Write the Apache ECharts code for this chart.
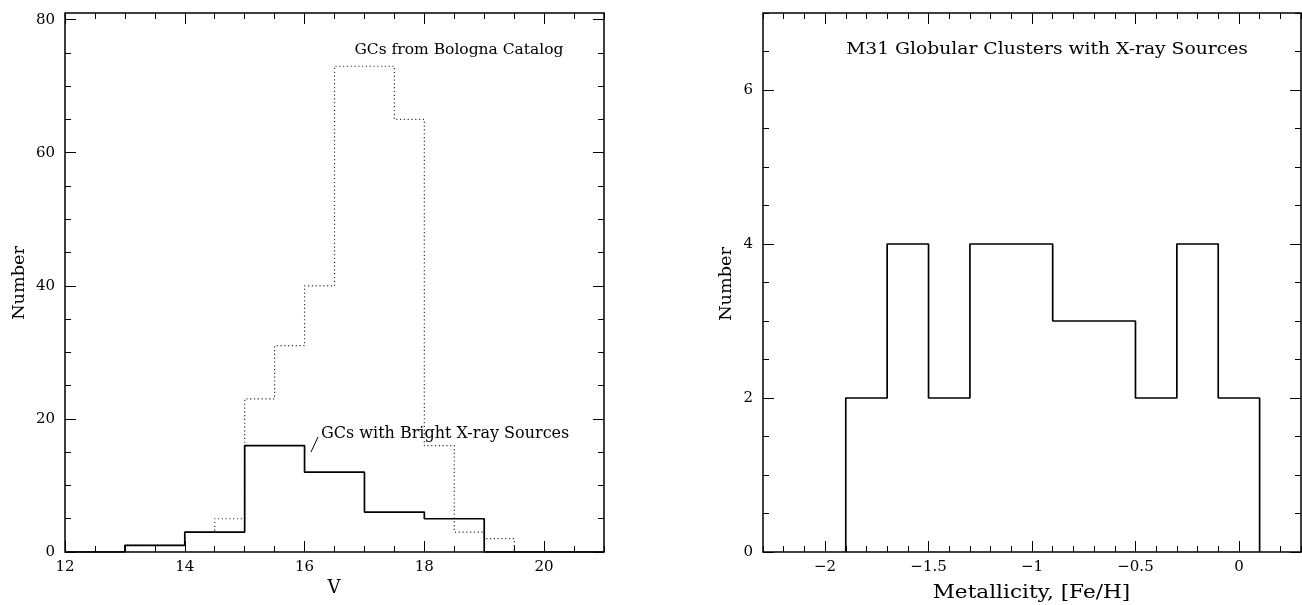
<!DOCTYPE html>
<html><head><meta charset="utf-8">
<script src="https://cdn.jsdelivr.net/npm/echarts@6/dist/echarts.min.js"></script>
<style>html,body{margin:0;padding:0;background:#fff}#c{width:1302px;height:605px}</style>
</head><body><div id="c"></div>
<script>
// ---- Left panel: V magnitude histograms ----
const vEdgesBright = [12, 13, 14, 15, 16, 17, 18, 19, 20, 21];
const vCountsBright = [0, 1, 3, 16, 12, 6, 5, 0, 0];
const vEdgesBologna = [12, 12.5, 13, 13.5, 14, 14.5, 15, 15.5, 16, 16.5, 17, 17.5, 18, 18.5, 19, 19.5, 20, 20.5, 21];
const vCountsBologna = [0, 0, 1, 1, 3, 5, 23, 31, 40, 73, 73, 65, 16, 3, 2, 0, 0, 0];
const leftXTicks = [12, 14, 16, 18, 20];
const leftYTicks = [0, 20, 40, 60, 80];

// ---- Right panel: metallicity histogram ----
const fehEdges = [-1.9, -1.7, -1.5, -1.3, -1.1, -0.9, -0.7, -0.5, -0.3, -0.1, 0.1];
const fehCounts = [2, 4, 2, 4, 4, 3, 3, 2, 4, 2];
const rightXTicks = [-2, -1.5, -1, -0.5, 0];
const rightYTicks = [0, 2, 4, 6];

function range(a, b, step) {
  const out = [];
  const n = Math.round((b - a) / step);
  for (let i = 0; i <= n; i++) out.push(Math.round((a + i * step) * 1000) / 1000);
  return out;
}
const leftXMinor = range(12, 21, 0.5);
const leftYMinor = range(0, 80, 5);
const rightXMinor = range(-2.3, 0.3, 0.1);
const rightYMinor = range(0, 7, 0.5);

function stepPts(edges, counts) {
  const p = [[edges[0], 0]];
  counts.forEach((c, i) => { p.push([edges[i], c]); p.push([edges[i + 1], c]); });
  p.push([edges[edges.length - 1], 0]);
  return p;
}

const FONT = '"DejaVu Serif", "Liberation Serif", serif';
const fmt = v => String(v).replace('-', '\u2212');

function makeAxes(dim, gridIndex, min, max, major, minor) {
  const mainPos = dim === 'x' ? 'bottom' : 'left';
  const oppPos = dim === 'x' ? 'top' : 'right';
  const base = {
    type: 'value', gridIndex, min, max,
    axisLine: { show: false, onZero: false },
    splitLine: { show: false },
    minorTick: { show: false }
  };
  const tick = (vals, len) => ({ show: true, inside: true, length: len, customValues: vals, lineStyle: { color: '#000', width: 1 } });
  return [
    Object.assign({}, base, {
      position: mainPos,
      axisTick: tick(major, 11),
      axisLabel: { show: true, customValues: major, formatter: fmt, fontFamily: FONT, fontSize: 15, color: '#000', margin: dim === 'x' ? 8 : 10 }
    }),
    Object.assign({}, base, { position: mainPos, axisTick: tick(minor, 6), axisLabel: { show: false } }),
    Object.assign({}, base, { position: oppPos, axisTick: tick(major, 11), axisLabel: { show: false } }),
    Object.assign({}, base, { position: oppPos, axisTick: tick(minor, 6), axisLabel: { show: false } })
  ];
}

const xAxes = [].concat(
  makeAxes('x', 0, 12, 21, leftXTicks, leftXMinor),
  makeAxes('x', 1, -2.3, 0.3, rightXTicks, rightXMinor)
);
const yAxes = [].concat(
  makeAxes('y', 0, 0, 81, leftYTicks, leftYMinor),
  makeAxes('y', 1, 0, 7, rightYTicks, rightYMinor)
);

function label(text, x, y, size, sx, rot, align) {
  return {
    type: 'text', x, y, rotation: rot || 0, scaleX: sx || 1, scaleY: 1,
    style: { text, font: size + 'px ' + FONT, fill: '#000', align: align || 'center', verticalAlign: 'middle' }
  };
}

const chart = echarts.init(document.getElementById('c'), null, { renderer: 'canvas' });
chart.setOption({
  animation: false,
  backgroundColor: '#fff',
  grid: [
    { left: 65, top: 13, width: 539, height: 539, show: true, borderColor: '#000', borderWidth: 1.5, backgroundColor: 'transparent' },
    { left: 763, top: 13, width: 538, height: 539, show: true, borderColor: '#000', borderWidth: 1.5, backgroundColor: 'transparent' }
  ],
  xAxis: xAxes,
  yAxis: yAxes,
  series: [
    {
      name: 'GCs from Bologna Catalog', type: 'line', xAxisIndex: 0, yAxisIndex: 0,
      data: stepPts(vEdgesBologna, vCountsBologna), showSymbol: false, symbol: 'none',
      lineStyle: { color: '#333', width: 1.2, type: [1.2, 2.6] }, z: 2
    },
    {
      name: 'GCs with Bright X-ray Sources', type: 'line', xAxisIndex: 0, yAxisIndex: 0,
      data: stepPts(vEdgesBright, vCountsBright), showSymbol: false, symbol: 'none',
      lineStyle: { color: '#000', width: 1.7 }, z: 3
    },
    {
      name: 'M31 Globular Clusters with X-ray Sources', type: 'line', xAxisIndex: 4, yAxisIndex: 4,
      data: stepPts(fehEdges, fehCounts), showSymbol: false, symbol: 'none',
      lineStyle: { color: '#000', width: 1.7 }, z: 3
    }
  ],
  graphic: [
    label('GCs from Bologna Catalog', 459, 50, 15.5),
    label('GCs with Bright X-ray Sources', 321, 434, 16, 1, 0, 'left'),
    { type: 'line', shape: { x1: 311, y1: 452, x2: 318, y2: 437 }, style: { stroke: '#000', lineWidth: 1 } },
    label('M31 Globular Clusters with X-ray Sources', 1047, 50, 16, 1.17),
    label('V', 334, 588, 18),
    label('Metallicity, [Fe/H]', 1031.5, 593, 18, 1.2),
    label('Number', 20, 283, 16.5, 1.07, Math.PI / 2),
    label('Number', 727, 284, 16.5, 1.07, Math.PI / 2)
  ]
});
</script>
</body></html>
